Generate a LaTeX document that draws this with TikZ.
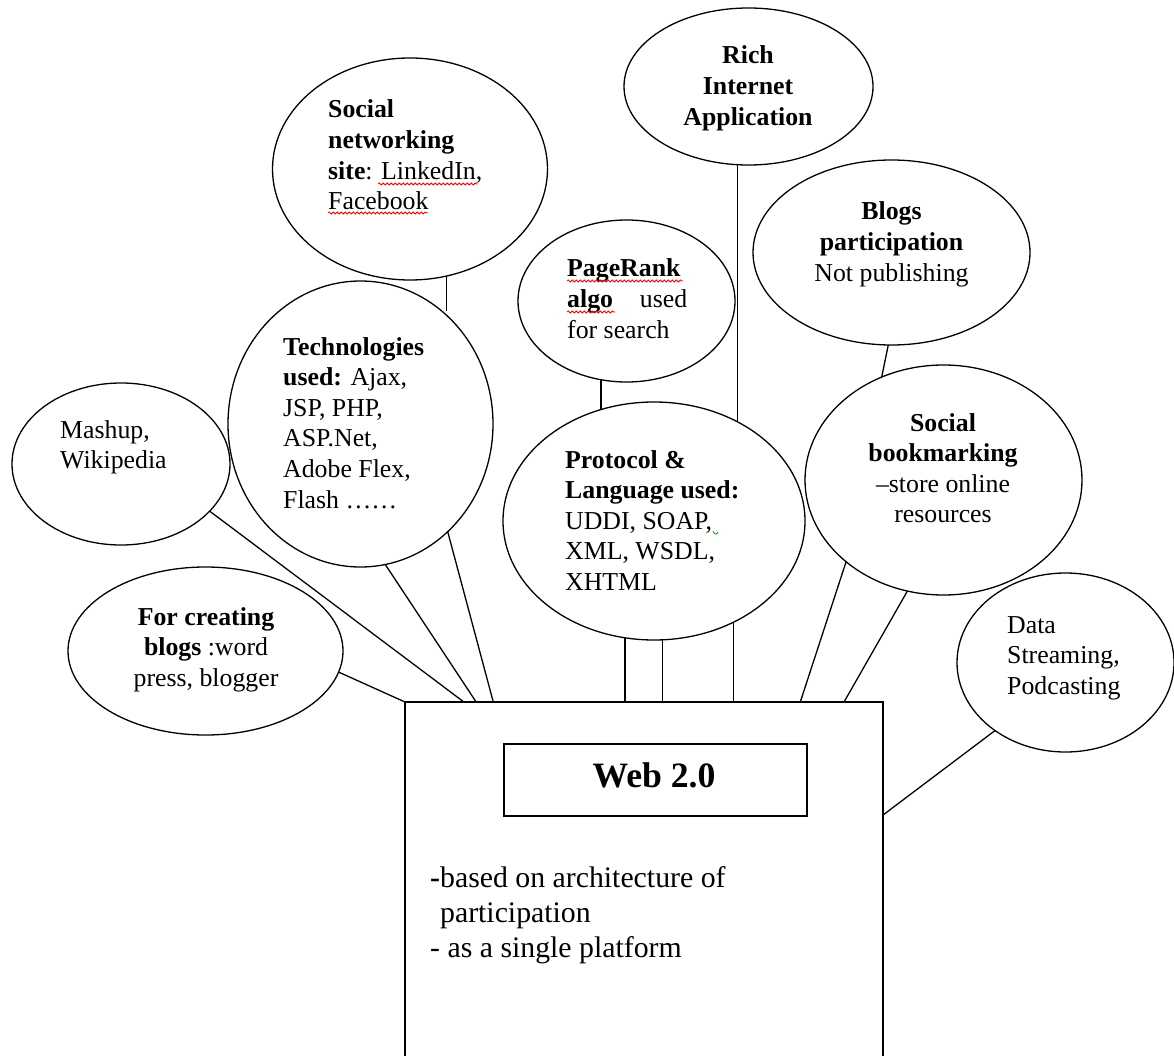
\documentclass[tikz,border=0pt]{standalone}
\usepackage{fontspec}
\setmainfont{Liberation Serif}
\usetikzlibrary{shapes.geometric,decorations.pathmorphing,calc}

% text sizes used in the bubbles, the title and the body of the main box
\newcommand\bubblefont{\fontsize{25.8}{30.6}\selectfont}
\newcommand\titlefont{\bfseries\fontsize{35.7}{40}\selectfont}
\newcommand\bodyfont{\fontsize{29.8}{35}\selectfont}
% a block of lines whose baseline is the first line's baseline
\newcommand\textlines[2]{\begin{tabular}[t]{@{}#1@{}}#2\end{tabular}}

\begin{document}
\begin{tikzpicture}[x=1pt,y=-1pt,
  bubble/.style={draw, ellipse, line width=1.3pt, inner sep=0pt, outer sep=0pt},
  lbl/.style={inner sep=0pt, font=\bubblefont},
  link/.style={draw, line width=1.3pt},
  squiggle/.style={draw=red, line width=0.8pt, decorate,
    decoration={snake, amplitude=1.1pt, segment length=4pt}},
]
\useasboundingbox (0,0) rectangle (1174,1056);

% ---- bubbles ----
\node[bubble, minimum width=275pt, minimum height=222pt] (socnet)     at (410,169)    {};
\node[bubble, minimum width=249pt, minimum height=157pt] (ria)        at (748.5,86.5) {};
\node[bubble, minimum width=217pt, minimum height=162pt] (pagerank)   at (626.5,301)  {};
\node[bubble, minimum width=277pt, minimum height=185pt] (blogsp)     at (891.5,252.5){};
\node[bubble, minimum width=218pt, minimum height=162pt] (mashup)     at (121,464)    {};
\node[bubble, minimum width=265pt, minimum height=286pt] (tech)       at (360.5,424)  {};
\node[bubble, minimum width=275pt, minimum height=168pt] (forblogs)   at (205.5,651)  {};
\node[bubble, minimum width=302pt, minimum height=238pt] (protocol)   at (654,521)    {};
\node[bubble, minimum width=277pt, minimum height=230pt] (socbook)    at (943.5,480)  {};
\node[bubble, minimum width=217pt, minimum height=179pt] (datastream) at (1065.5,662.5){};

% ---- main box (runs past the lower edge) ----
\node[draw, line width=1.3pt, minimum width=478pt, minimum height=400pt,
      inner sep=0pt, outer sep=0pt] (web) at (644,902) {};
\node[draw, line width=1.3pt, minimum width=303pt, minimum height=72pt,
      inner sep=0pt, outer sep=0pt] (titlebox) at (655.5,780) {};
\node[inner sep=0pt, font=\titlefont, anchor=base] (title) at (654,787) {Web 2.0};
\node[inner sep=0pt, font=\bodyfont, anchor=base west] (body) at (430,887)
  {\textlines{l}{\textbf{-}based on architecture of\\
                 \phantom{\textbf{-}}participation\\
                 - as a single platform}};

% ---- bubble texts ----
\node[lbl, anchor=base west] (socnettext) at (328,118)
  {\textlines{l}{\textbf{Social}\\ \textbf{networking}\\ \textbf{site}: LinkedIn,\\ Facebook}};
\node[lbl, anchor=base] (riatext) at (748,64)
  {\textlines{c}{\textbf{Rich}\\ \textbf{Internet}\\ \textbf{Application}}};
\node[lbl, anchor=base west] (pageranktext) at (567,277)
  {\textlines{l}{\textbf{PageRank}\\ \makebox[120pt][l]{\textbf{algo}\hfill used}\\ for search}};
\node[lbl, anchor=base] (blogsptext) at (891.5,220)
  {\textlines{c}{\textbf{Blogs}\\ \textbf{participation}\\ Not publishing}};
\node[lbl, anchor=base west] (mashuptext) at (60,438)
  {\textlines{l}{Mashup,\\ Wikipedia}};
\node[lbl, anchor=base west] (techtext) at (283,355)
  {\textlines{l}{\textbf{Technologies}\\ \textbf{used:} Ajax,\\ JSP, PHP,\\ ASP.Net,\\ Adobe Flex,\\ Flash ……}};
\node[lbl, anchor=base] (forblogstext) at (206,625)
  {\textlines{c}{\textbf{For creating}\\ \textbf{blogs} :word\\ press, blogger}};
\node[lbl, anchor=base west] (protocoltext) at (565,468)
  {\textlines{l}{\textbf{Protocol \&}\\ \textbf{Language used:}\\ UDDI, SOAP,\\ XML, WSDL,\\ XHTML}};
\node[lbl, anchor=base] (socbooktext) at (943,431)
  {\textlines{c}{\textbf{Social}\\ \textbf{bookmarking}\\ –store online\\ resources}};
\node[lbl, anchor=base west] (datastreamtext) at (1007,633)
  {\textlines{l}{Data\\ Streaming,\\ Podcasting}};

% ---- spelling marks under words ----
\draw[squiggle] (378,184) -- (477,184);
\draw[squiggle] (328,213) -- (428,213);
\draw[squiggle] (567,281) -- (683,281);
\draw[squiggle] (567,312) -- (615,312);
\draw[draw=green!60!black, line width=0.8pt] (713,531) .. controls (714,535) and (717,535) .. (718,532);

% ---- connectors ----
\draw[link] (socnet.-71.1) -- (socnet.-71.1 |- tech.54.1);
\draw[link] (pagerank.-108.5) -- (pagerank.-108.5 |- protocol.114.8);
\draw[link] (ria.-98.7) -- (ria.-98.7 |- protocol.51.5);
\draw[link] (blogsp.-92.2) -- (socbook.121.3);
\draw[link] (mashup.-28) -- (web.132.92);
\draw[link] (forblogs.-9.9) -- (web.north west);
\draw[link] (tech.-80.7) -- (web.130.7);
\draw[link] (tech.-51.75) -- (web.127.06);
\draw[link] (protocol.-104.5) -- (protocol.-104.5 |- web.north);
\draw[link] (protocol.-86.7) -- (protocol.-86.7 |- web.north);
\draw[link] (protocol.-52.3) -- (protocol.-52.3 |- web.north);
\draw[link] (socbook.-140.8) -- (web.52.77);
\draw[link] (socbook.-108.5) -- (web.45.72);
\draw[link] (datastream.-136.6) -- (web.20);
\end{tikzpicture}
\end{document}
